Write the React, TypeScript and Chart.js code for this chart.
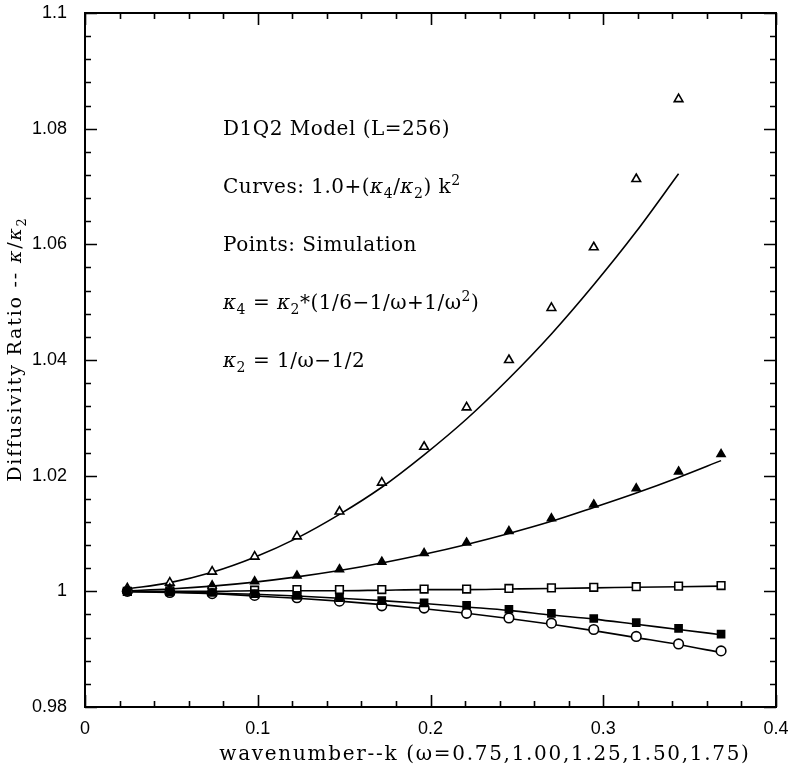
import React, { useEffect, useRef } from "react";
import { Chart, registerables } from "chart.js";

Chart.register(...registerables);

// wavenumbers k = 2*pi*n/256, n = 1..15
const kValues = [0.0245, 0.0491, 0.0736, 0.0982, 0.1227, 0.1473, 0.1718, 0.1963, 0.2209, 0.2454, 0.2700, 0.2945, 0.3191, 0.3436, 0.3682];

// theory curves 1 + (k4/k2) k^2
const curve075 = [1.0004, 1.0015, 1.0033, 1.0059, 1.0092, 1.0133, 1.0180, 1.0236, 1.0298, 1.0368, 1.0445, 1.0530, 1.0622, 1.0722];
const curve100 = [1.0001, 1.0004, 1.0009, 1.0016, 1.0025, 1.0036, 1.0049, 1.0064, 1.0081, 1.0100, 1.0121, 1.0145, 1.0170, 1.0197, 1.0226];
const curve125 = [1.0000, 1.0000, 1.0000, 1.0001, 1.0001, 1.0001, 1.0002, 1.0003, 1.0003, 1.0004, 1.0005, 1.0006, 1.0007, 1.0008, 1.0009];
const curve150 = [1.0000, 0.9999, 0.9997, 0.9995, 0.9992, 0.9988, 0.9984, 0.9979, 0.9973, 0.9967, 0.9959, 0.9952, 0.9943, 0.9934, 0.9925];
const curve175 = [0.99995, 0.9998, 0.9996, 0.9992, 0.9988, 0.9983, 0.9977, 0.9970, 0.9962, 0.9953, 0.9943, 0.9932, 0.9920, 0.9908, 0.9894];

// simulation points
const sim075 = [1.0005, 1.0015, 1.0034, 1.0060, 1.0095, 1.0138, 1.0188, 1.0250, 1.0318, 1.0400, 1.0490, 1.0595, 1.0713, 1.0851];
const sim100 = [1.0001, 1.0005, 1.0010, 1.0017, 1.0027, 1.0038, 1.0051, 1.0066, 1.0084, 1.0104, 1.0126, 1.0150, 1.0178, 1.0207, 1.0237];
const sim125 = [1.0000, 1.0001, 1.0002, 1.0002, 1.0003, 1.0003, 1.0003, 1.0004, 1.0004, 1.0005, 1.0006, 1.0007, 1.0008, 1.0009, 1.0010];
const sim150 = [1.0000, 0.9999, 0.9998, 0.9996, 0.9993, 0.9989, 0.9984, 0.9980, 0.9976, 0.9969, 0.9962, 0.9953, 0.9946, 0.9936, 0.9926];
const sim175 = [1.0000, 0.9998, 0.9996, 0.9993, 0.9989, 0.9983, 0.9975, 0.9971, 0.9962, 0.9954, 0.9945, 0.9934, 0.9922, 0.9909, 0.9897];

const xTickLabels = ["0", "0.1", "0.2", "0.3", "0.4"];
const yTickLabels = ["0.98", "1", "1.02", "1.04", "1.06", "1.08", "1.1"];

const xTitle = "wavenumber--k (ω=0.75,1.00,1.25,1.50,1.75)";

type Seg = { t: string; it?: boolean; sub?: boolean; sup?: boolean };
const yTitle: Seg[] = [
  { t: "Diffusivity Ratio -- " }, { t: "κ", it: true }, { t: "/" }, { t: "κ", it: true }, { t: "2", sub: true },
];
const annotation: Seg[][] = [
  [{ t: "D1Q2 Model (L=256)" }],
  [{ t: "Curves: 1.0+(" }, { t: "κ", it: true }, { t: "4", sub: true }, { t: "/" }, { t: "κ", it: true }, { t: "2", sub: true }, { t: ") k" }, { t: "2", sup: true }],
  [{ t: "Points: Simulation" }],
  [{ t: "κ", it: true }, { t: "4", sub: true }, { t: " = " }, { t: "κ", it: true }, { t: "2", sub: true }, { t: "*(1/6−1/ω+1/ω" }, { t: "2", sup: true }, { t: ")" }],
  [{ t: "κ", it: true }, { t: "2", sub: true }, { t: " = 1/ω−1/2" }],
];

const SERIF = '"DejaVu Serif", serif';

function segFont(s: Seg, size: number) {
  const sz = s.sub || s.sup ? Math.round(size * 0.68) : size;
  return `${s.it ? "italic " : ""}${sz}px ${SERIF}`;
}

function drawRich(ctx: CanvasRenderingContext2D, x: number, yMid: number, segs: Seg[], size: number, align: "left" | "center", spacing: number) {
  ctx.save();
  (ctx as any).letterSpacing = `${spacing}px`;
  ctx.textBaseline = "alphabetic";
  ctx.textAlign = "left";
  let total = 0;
  for (const s of segs) {
    ctx.font = segFont(s, size);
    total += ctx.measureText(s.t).width;
  }
  let cx = align === "center" ? x - total / 2 : x;
  const base = yMid + size * 0.36;
  for (const s of segs) {
    ctx.font = segFont(s, size);
    const dy = s.sub ? size * 0.25 : s.sup ? -size * 0.42 : 0;
    ctx.fillText(s.t, cx, base + dy);
    cx += ctx.measureText(s.t).width;
  }
  ctx.restore();
}

const framePlugin = {
  id: "frameTicks",
  afterDraw(chart: any) {
    const { ctx, chartArea } = chart;
    const xs = chart.scales.x;
    const ys = chart.scales.y;
    const { left, right, top, bottom } = chartArea;
    ctx.save();
    ctx.strokeStyle = "#000";
    ctx.lineWidth = 2;
    ctx.strokeRect(left, top, right - left, bottom - top);
    ctx.lineWidth = 1.6;
    ctx.beginPath();
    for (let i = 0; i <= 20; i++) {
      const px = Math.round(xs.getPixelForValue(i * 0.02)) + 0.5;
      const len = i % 5 === 0 ? 12 : 6;
      ctx.moveTo(px, bottom);
      ctx.lineTo(px, bottom - len);
      ctx.moveTo(px, top);
      ctx.lineTo(px, top + len);
    }
    for (let i = 0; i <= 30; i++) {
      const py = Math.round(ys.getPixelForValue(0.98 + i * 0.004)) + 0.5;
      const len = i % 5 === 0 ? 12 : 6;
      ctx.moveTo(left, py);
      ctx.lineTo(left + len, py);
      ctx.moveTo(right, py);
      ctx.lineTo(right - len, py);
    }
    ctx.stroke();
    ctx.fillStyle = "#000";
    // x title
    drawRich(ctx, 485, 753, [{ t: xTitle }], 20, "center", 1.7);
    // y title rotated
    ctx.save();
    ctx.translate(14, 349);
    ctx.rotate(-Math.PI / 2);
    drawRich(ctx, 0, 0, yTitle, 19, "center", 1.8);
    ctx.restore();
    // annotation
    const lineYs = [128, 186, 244, 302, 360];
    annotation.forEach((segs, i) => drawRich(ctx, 223, lineYs[i], segs, 20, "left", 0.5));
    ctx.restore();
  },
};

function pts(ys: number[]) {
  return ys.map((y, i) => ({ x: kValues[i], y }));
}

export default function App() {
  const ref = useRef<HTMLCanvasElement>(null);
  useEffect(() => {
    if (!ref.current) return;
    const curveDs = (data: number[]) => ({
      data: pts(data),
      showLine: true,
      borderColor: "#000",
      borderWidth: 1.6,
      pointRadius: 0,
      cubicInterpolationMode: "monotone" as const,
      order: 2,
    });
    const pointDs = (data: number[], style: string, filled: boolean, r: number) => ({
      data: pts(data),
      showLine: false,
      pointStyle: style,
      pointRadius: r,
      pointBorderWidth: 1.6,
      pointBorderColor: "#000",
      pointBackgroundColor: filled ? "#000" : "#fff",
      order: 1,
    });
    const chart = new Chart(ref.current, {
      type: "scatter",
      data: {
        datasets: [
          curveDs(curve075),
          curveDs(curve100),
          curveDs(curve125),
          curveDs(curve150),
          curveDs(curve175),
          pointDs(sim150, "rect", true, 5),
          pointDs(sim175, "circle", false, 4.8),
          pointDs(sim125, "rect", false, 5.4),
          pointDs(sim100, "triangle", true, 4.6),
          pointDs(sim075, "triangle", false, 5),
        ] as any,
      },
      options: {
        responsive: false,
        animation: false,
        devicePixelRatio: 1,
        layout: { padding: { left: 0, right: 12, top: 13, bottom: 0 } },
        plugins: { legend: { display: false }, tooltip: { enabled: false } },
        scales: {
          x: {
            type: "linear",
            min: 0,
            max: 0.4,
            grid: { display: false, drawTicks: false },
            border: { display: false },
            ticks: {
              stepSize: 0.1,
              padding: 11,
              maxRotation: 0,
              autoSkip: false,
              color: "#000",
              font: { family: '"Liberation Sans", Arial, sans-serif', size: 18 },
              callback: (v: any) => xTickLabels.find((l) => Math.abs(parseFloat(l) - Number(v)) < 1e-6) ?? "",
            },
            afterFit: (s: any) => {
              s.height = 57;
              s.paddingLeft = 0;
              s.paddingRight = 0;
            },
          },
          y: {
            type: "linear",
            min: 0.98,
            max: 1.1,
            grid: { display: false, drawTicks: false },
            border: { display: false },
            ticks: {
              stepSize: 0.02,
              padding: 18,
              autoSkip: false,
              color: "#000",
              font: { family: '"Liberation Sans", Arial, sans-serif', size: 18 },
              callback: (v: any) => yTickLabels.find((l) => Math.abs(parseFloat(l) - Number(v)) < 1e-6) ?? "",
            },
            afterFit: (s: any) => {
              s.width = 85;
              s.paddingTop = 0;
              s.paddingBottom = 0;
            },
          },
        },
      },
      plugins: [framePlugin],
    });
    return () => chart.destroy();
  }, []);
  return (
    <div style={{ position: "absolute", left: 0, top: 0, width: 788, height: 764, background: "#fff" }}>
      <canvas ref={ref} width={788} height={764} />
    </div>
  );
}
